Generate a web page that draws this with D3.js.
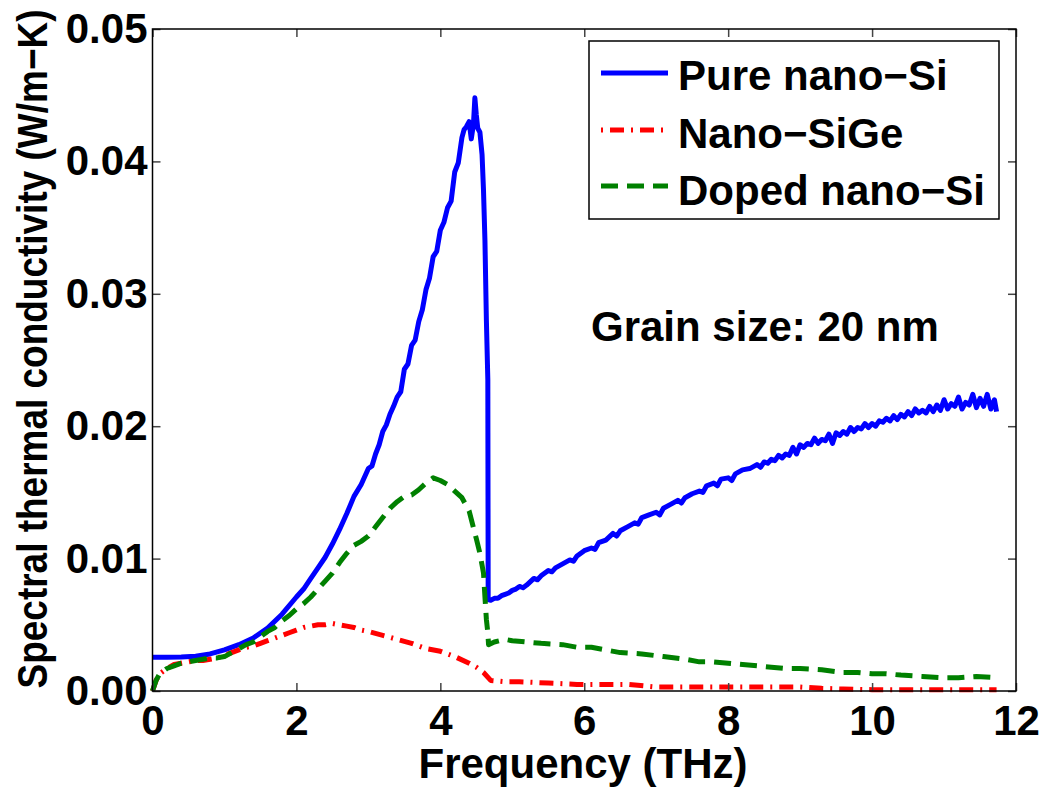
<!DOCTYPE html>
<html>
<head>
<meta charset="utf-8">
<script src="https://cdn.jsdelivr.net/npm/d3@7"></script>
<style>
html,body{margin:0;padding:0;background:#fff;}
text{font-family:"Liberation Sans",Arial,Helvetica,sans-serif;font-weight:bold;}
</style>
</head>
<body>
<svg id="chart" width="1045" height="789"></svg>
<script>
// ---------------- data ----------------
const xTicks = [0, 2, 4, 6, 8, 10, 12];
const yTicks = [0, 0.01, 0.02, 0.03, 0.04, 0.05];
const legendLabels = ["Pure nano\u2212Si", "Nano\u2212SiGe", "Doped nano\u2212Si"];

const pureFreq = [0,0.2,0.4,0.6,0.8,1.0,1.2,1.4,1.6,1.8,2.0,2.1,2.2,2.3,2.4,2.5,2.6,2.7,2.8,2.9,3.0,3.05,3.1,3.15,3.2,3.25,3.3,3.35,3.4,3.45,3.5,3.55,3.6,3.65,3.7,3.75,3.8,3.85,3.9,3.95,4.0,4.05,4.1,4.15,4.2,4.25,4.3,4.33,4.36,4.4,4.43,4.46,4.48,4.5,4.52,4.55,4.58,4.6,4.62,4.64,4.66,4.665,4.7,4.75,4.8,4.85,4.9,4.95,5.0,5.05,5.1,5.15,5.2,5.3,5.35,5.4,5.5,5.55,5.6,5.7,5.8,5.85,5.9,6.0,6.1,6.15,6.2,6.3,6.4,6.45,6.5,6.6,6.7,6.75,6.8,6.9,7.0,7.05,7.1,7.2,7.3,7.35,7.4,7.5,7.6,7.65,7.7,7.8,7.85,7.9,8.0,8.05,8.1,8.2,8.3,8.4,8.45,8.5,8.55,8.6,8.65,8.7,8.75,8.8,8.85,8.9,8.95,9.0,9.05,9.1,9.15,9.2,9.25,9.3,9.35,9.4,9.45,9.5,9.55,9.6,9.65,9.7,9.75,9.8,9.85,9.9,9.95,10.0,10.05,10.1,10.15,10.2,10.25,10.3,10.35,10.4,10.45,10.5,10.55,10.6,10.65,10.7,10.75,10.8,10.85,10.9,10.95,11.0,11.05,11.1,11.15,11.2,11.25,11.3,11.35,11.4,11.45,11.5,11.55,11.6,11.65,11.7,11.73];
const pureVal = [0.00255,0.00255,0.00256,0.00262,0.00280,0.00310,0.00350,0.00400,0.00475,0.00580,0.00710,0.00770,0.00850,0.00930,0.01010,0.01110,0.01220,0.01340,0.01470,0.01560,0.01680,0.01700,0.01790,0.01860,0.01960,0.02010,0.02090,0.02150,0.02220,0.02260,0.02430,0.02470,0.02610,0.02650,0.02790,0.02880,0.03030,0.03120,0.03280,0.03320,0.03480,0.03540,0.03650,0.03700,0.03920,0.03990,0.04180,0.04240,0.04260,0.04300,0.04170,0.04280,0.04480,0.04350,0.04250,0.04220,0.04050,0.03780,0.03400,0.02800,0.02350,0.00690,0.00685,0.00700,0.00700,0.00720,0.00730,0.00740,0.00760,0.00770,0.00790,0.00780,0.00800,0.00850,0.00840,0.00870,0.00910,0.00900,0.00930,0.00960,0.00990,0.00980,0.01020,0.01060,0.01080,0.01070,0.01120,0.01140,0.01190,0.01170,0.01210,0.01240,0.01270,0.01260,0.01310,0.01330,0.01350,0.01330,0.01380,0.01410,0.01440,0.01420,0.01460,0.01490,0.01510,0.01500,0.01550,0.01570,0.01550,0.01600,0.01610,0.01590,0.01640,0.01670,0.01680,0.01710,0.01690,0.01730,0.01720,0.01750,0.01740,0.01780,0.01760,0.01790,0.01780,0.01840,0.01790,0.01860,0.01840,0.01870,0.01860,0.01910,0.01870,0.01900,0.01890,0.01940,0.01870,0.01950,0.01930,0.01960,0.01940,0.01990,0.01960,0.01990,0.01980,0.02020,0.01990,0.02020,0.02000,0.02040,0.02030,0.02060,0.02040,0.02080,0.02050,0.02090,0.02070,0.02110,0.02080,0.02130,0.02100,0.02120,0.02100,0.02150,0.02110,0.02160,0.02120,0.02200,0.02130,0.02170,0.02150,0.02220,0.02130,0.02180,0.02160,0.02240,0.02140,0.02210,0.02150,0.02240,0.02130,0.02200,0.02110];

const sigeFreq = [0,0.05,0.1,0.2,0.3,0.4,0.5,0.6,0.7,0.8,0.9,1.0,1.1,1.2,1.3,1.4,1.5,1.6,1.7,1.8,1.9,2.0,2.1,2.2,2.3,2.4,2.5,2.6,2.7,2.8,2.9,3.0,3.2,3.4,3.6,3.8,4.0,4.2,4.4,4.5,4.6,4.7,4.9,5.1,5.5,5.9,6.3,6.6,7.0,7.5,8.0,8.5,9.0,9.3,9.6,10.0,10.5,11.0,11.73];
const sigeVal = [0.0000,0.0008,0.0013,0.0017,0.0020,0.0021,0.0022,0.0023,0.0023,0.0024,0.0025,0.0027,0.0029,0.0031,0.0033,0.0034,0.0036,0.0038,0.0040,0.0042,0.0044,0.0046,0.0048,0.0049,0.0050,0.0050,0.0051,0.0050,0.0049,0.0048,0.0046,0.0045,0.0042,0.0039,0.0036,0.0032,0.0030,0.0026,0.0021,0.0018,0.0014,0.0008,0.0007,0.0007,0.0006,0.0005,0.0005,0.0005,0.0003,0.0003,0.0003,0.0003,0.0003,0.0002,0.00015,0.0001,0.0001,0.0001,0.0001];

const dopedFreq = [0,0.05,0.1,0.2,0.3,0.4,0.5,0.6,0.7,0.8,0.9,1.0,1.1,1.2,1.3,1.4,1.5,1.6,1.7,1.8,1.9,2.0,2.1,2.2,2.3,2.4,2.5,2.6,2.7,2.8,2.9,3.0,3.1,3.2,3.3,3.4,3.5,3.6,3.7,3.8,3.9,4.0,4.1,4.2,4.3,4.4,4.5,4.55,4.6,4.62,4.64,4.66,4.67,4.75,4.9,5.0,5.2,5.4,5.7,5.9,6.1,6.3,6.5,6.8,7.1,7.4,7.6,7.8,8.0,8.2,8.4,8.6,8.8,9.0,9.3,9.6,9.8,10.0,10.2,10.4,10.7,11.0,11.2,11.45,11.73];
const dopedVal = [0.0000,0.0008,0.0013,0.0017,0.0019,0.0021,0.0022,0.0023,0.0024,0.0025,0.0025,0.0026,0.0029,0.0032,0.0035,0.0037,0.0041,0.0045,0.0048,0.0053,0.0057,0.0062,0.0066,0.0071,0.0077,0.0083,0.0089,0.0097,0.0104,0.0110,0.0113,0.0117,0.0124,0.0131,0.0138,0.0143,0.0147,0.0148,0.0152,0.0157,0.0161,0.0159,0.0156,0.0151,0.0146,0.0136,0.0115,0.0104,0.0089,0.0071,0.0054,0.0044,0.0035,0.0037,0.0039,0.0038,0.0037,0.0036,0.0035,0.0033,0.0033,0.0031,0.0029,0.0028,0.0026,0.0024,0.0022,0.0022,0.0021,0.0020,0.0019,0.0018,0.0017,0.0017,0.0016,0.0014,0.0014,0.0013,0.0013,0.0012,0.0011,0.0010,0.0010,0.0011,0.0010];

// ---------------- layout ----------------
const svg = d3.select("#chart");
const L = 152.5, R = 1016, T = 29, B = 691;
const x = d3.scaleLinear().domain([0, 12]).range([L, R]);
const y = d3.scaleLinear().domain([0, 0.05]).range([B, T]);

svg.append("rect").attr("width", 1045).attr("height", 789).attr("fill", "#fff");

const series = [
  {f: pureFreq, v: pureVal, color: "#0000ff", dash: null, w: 5},
  {f: sigeFreq, v: sigeVal, color: "#ff0000", dash: "14,7,2,7", w: 5},
  {f: dopedFreq, v: dopedVal, color: "#008000", dash: "17,9", w: 5}
];

const line = d3.line().x(d => x(d[0])).y(d => y(d[1]));
series.forEach(s => {
  const pts = s.f.map((f, i) => [f, s.v[i]]);
  svg.append("path").datum(pts)
    .attr("d", line)
    .attr("fill", "none")
    .attr("stroke", s.color)
    .attr("stroke-width", s.w)
    .attr("stroke-linejoin", "round")
    .attr("stroke-dasharray", s.dash);
});

// axes
const tickStroke = "#444";
const gB = svg.append("g").attr("transform", `translate(0,${B})`)
  .call(d3.axisBottom(x).tickValues(xTicks).tickSizeInner(-8).tickSizeOuter(0).tickPadding(14).tickFormat(d3.format("d")));
const gL = svg.append("g").attr("transform", `translate(${L},0)`)
  .call(d3.axisLeft(y).tickValues(yTicks).tickSizeInner(-8).tickSizeOuter(0).tickPadding(5).tickFormat(d3.format(".2f")));
const gT = svg.append("g").attr("transform", `translate(0,${T})`)
  .call(d3.axisTop(x).tickValues(xTicks).tickSizeInner(-8).tickSizeOuter(0).tickFormat(""));
const gR = svg.append("g").attr("transform", `translate(${R},0)`)
  .call(d3.axisRight(y).tickValues(yTicks).tickSizeInner(-8).tickSizeOuter(0).tickFormat(""));
[gB, gL, gT, gR].forEach(g => {
  g.select(".domain").remove();
  g.selectAll(".tick line").attr("stroke", tickStroke).attr("stroke-width", 1.5);
  g.selectAll(".tick text").attr("font-size", 42).attr("fill", "#000")
    .attr("font-family", "'Liberation Sans',Arial,sans-serif").attr("font-weight", "bold");
});

svg.append("rect").attr("x", L).attr("y", T).attr("width", R - L).attr("height", B - T)
  .attr("fill", "none").attr("stroke", "#000").attr("stroke-width", 1.5);

// axis labels
svg.append("text").attr("x", 583).attr("y", 778).attr("text-anchor", "middle")
  .attr("font-size", 42).text("Frequency (THz)");
svg.append("text").attr("transform", "translate(47,349) rotate(-90) scale(0.86,1)")
  .attr("text-anchor", "middle").attr("font-size", 43)
  .text("Spectral thermal conductivity (W/m\u2212K)");

// annotation
svg.append("text").attr("x", 591).attr("y", 341).attr("font-size", 42).text("Grain size: 20 nm");

// legend
const lg = svg.append("g");
lg.append("rect").attr("x", 589).attr("y", 41).attr("width", 410).attr("height", 178)
  .attr("fill", "#fff").attr("stroke", "#000").attr("stroke-width", 1.5);
const ly = [73, 130, 186];
const lty = [90, 148, 205];
series.forEach((s, i) => {
  lg.append("line").attr("x1", 601).attr("x2", 668).attr("y1", ly[i]).attr("y2", ly[i])
    .attr("stroke", s.color).attr("stroke-width", s.w).attr("stroke-dasharray", s.dash)
    .attr("stroke-dashoffset", i === 1 ? 21 : 0);
  lg.append("text").attr("x", 678).attr("y", lty[i]).attr("font-size", 42).text(legendLabels[i]);
});
</script>
</body>
</html>
